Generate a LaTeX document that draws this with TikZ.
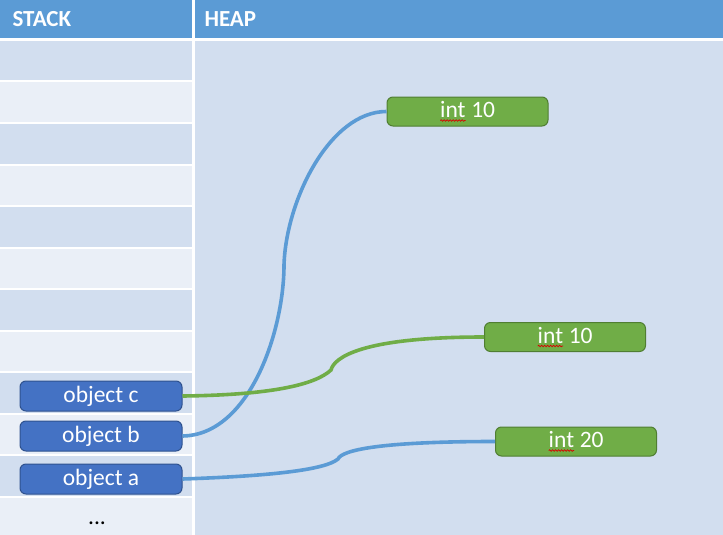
\documentclass[tikz,border=0pt]{standalone}
\usepackage{fontspec}
\setmainfont{Carlito}
\usetikzlibrary{positioning,decorations.pathmorphing}
\definecolor{hdBlue}{HTML}{5B9BD5}
\definecolor{rowDark}{HTML}{D2DEEF}
\definecolor{rowLight}{HTML}{EAEFF7}
\definecolor{objFill}{HTML}{4472C4}
\definecolor{objLine}{HTML}{2F528F}
\definecolor{valFill}{HTML}{70AD47}
\definecolor{valLine}{HTML}{507E32}
\newcommand{\spellmark}[1]{\tikz[baseline=(w.base),sharp corners]{\node[inner sep=0pt,outer sep=0pt,minimum width=0pt,minimum height=0pt,draw=none,fill=none] (w) {#1};
  \draw[red!85!black,line width=0.7pt,sharp corners,decorate,decoration={snake,amplitude=0.8pt,segment length=3pt}]
    ([yshift=-3pt]w.base west) -- ([yshift=-3pt]w.base east);}}

\begin{document}
\begin{tikzpicture}[x=1pt,y=-1pt,font=\fontsize{23.5}{26}\selectfont,
  objbox/.style={draw=objLine,line width=1pt,fill=objFill,rounded corners=6pt,text=white,minimum width=162pt,minimum height=30pt,inner sep=0pt},
  valbox/.style={draw=valLine,line width=1pt,fill=valFill,rounded corners=6pt,text=white,minimum width=161pt,minimum height=29pt,inner sep=0pt},
  headtxt/.style={anchor=base west,text=white,font=\fontsize{23}{26}\selectfont\bfseries},
  link/.style={line width=3.6pt}]
  \useasboundingbox (0,0) rectangle (723,535);
  \fill[white] (0,0) rectangle (723,535);
  % header
  \fill[hdBlue] (0,0) rectangle (192,38);
  \fill[hdBlue] (195,0) rectangle (723,38);
  \node[headtxt] (stackhd) at (9,26.5) {STACK};
  \node[headtxt] (heaphd) at (201,26.5) {HEAP};
  % stack rows and heap area
  \foreach \i in {0,...,11}{
    \ifodd\i \def\rowcol{rowLight}\else\def\rowcol{rowDark}\fi
    \pgfmathsetmacro{\rowtop}{41+41.5*\i}
    \fill[\rowcol] (0,\rowtop) rectangle (192,\rowtop+39.5);
  }
  \fill[rowDark] (195,41) rectangle (723,535);
  \node[anchor=base] (more) at (97,524) {...};
  % objects on the stack
  \node[objbox] (objc) at (101,396) {object c};
  \node[objbox,below=9pt of objc] (objb) {object b};
  \node[objbox,below=12pt of objb] (obja) {object a};
  % values on the heap
  \node[valbox] (valtop) at (467.5,111.5) {\spellmark{int} 10};
  \node[valbox] (valmid) at (565,337) {\spellmark{int} 10};
  \node[valbox] (valbot) at (576,441.5) {\spellmark{int} 20};
  % references
  \draw[link,hdBlue] (objb.east) .. controls (250,435) and (284,330) .. (284,265)
    .. controls (286,200) and (330,111.5) .. (valtop.west);
  \draw[link,valFill] (objc.east) .. controls (270,395) and (315,385) .. (331,370)
    .. controls (334,358) and (360,337) .. (valmid.west);
  \draw[link,hdBlue] (obja.east) .. controls (270,476) and (325,470) .. (338,459)
    .. controls (342,450) and (380,441.5) .. (valbot.west);
\end{tikzpicture}
\end{document}
